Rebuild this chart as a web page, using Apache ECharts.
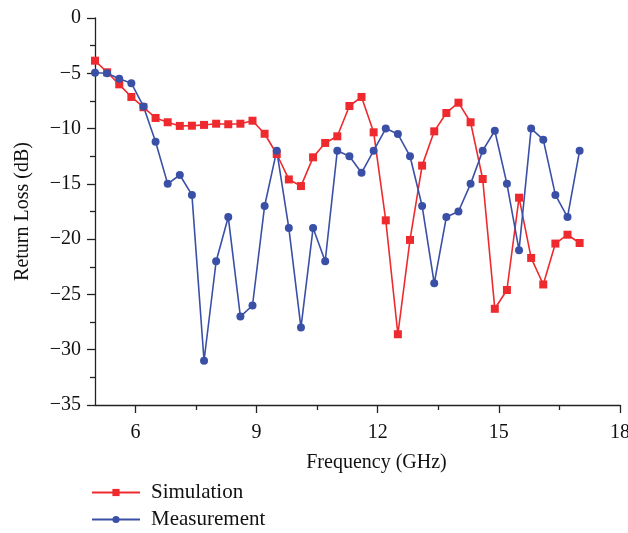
<!DOCTYPE html>
<html>
<head>
<meta charset="utf-8">
<script src="https://cdn.jsdelivr.net/npm/echarts@6/dist/echarts.min.js"></script>
<style>html,body{margin:0;padding:0;background:#fff}#c{width:628px;height:533px}</style>
</head>
<body>
<div id="c"></div>
<script>
const freq = [5.0,5.3,5.6,5.9,6.2,6.5,6.8,7.1,7.4,7.7,8.0,8.3,8.6,8.9,9.2,9.5,9.8,10.1,10.4,10.7,11.0,11.3,11.6,11.9,12.2,12.5,12.8,13.1,13.4,13.7,14.0,14.3,14.6,14.9,15.2,15.5,15.8,16.1,16.4,16.7,17.0];
const simulation = [-3.86,-4.91,-6.0,-7.14,-8.07,-9.04,-9.43,-9.76,-9.74,-9.67,-9.56,-9.61,-9.56,-9.29,-10.47,-12.3,-14.6,-15.2,-12.6,-11.3,-10.7,-7.96,-7.14,-10.34,-18.3,-28.6,-20.07,-13.35,-10.25,-8.59,-7.66,-9.43,-14.56,-26.3,-24.6,-16.25,-21.7,-24.1,-20.4,-19.6,-20.35];
const measurement = [-4.95,-5.0,-5.5,-5.9,-8.0,-11.2,-15.0,-14.2,-16.0,-31.0,-22.0,-18.0,-27.0,-26.0,-17.0,-12.0,-19.0,-28.0,-19.0,-22.0,-12.0,-12.5,-14.0,-12.0,-10.0,-10.5,-12.5,-17.0,-24.0,-18.0,-17.5,-15.0,-12.0,-10.2,-15.0,-21.0,-10.0,-11.0,-16.0,-18.0,-12.0];
const xMajorTicks = [6,9,12,15,18];
const xMinorTicks = [7.5,10.5,13.5,16.5];
const seriesNames = ['Simulation','Measurement'];

const FONT = 'Liberation Serif';
const chart = echarts.init(document.getElementById('c'));
const axisCol = '#222';
const gridBox = {left:95,right:8,top:18,bottom:128,containLabel:false,outerBoundsMode:'none'};
const legendText = {fontFamily:FONT,fontSize:21,color:'#111',lineHeight:20,padding:[0,0,0,6]};
chart.setOption({
  animation:false,
  grid:[Object.assign({},gridBox), Object.assign({},gridBox)],
  legend:[{
    orient:'vertical', left:86, top:477, itemWidth:48, itemHeight:9,
    textStyle:legendText, data:[seriesNames[0]]
  },{
    orient:'vertical', left:86, top:504, itemWidth:48, itemHeight:9,
    textStyle:legendText, data:[seriesNames[1]]
  }],
  xAxis:[{
    type:'value', min:5, max:18, gridIndex:0, position:'bottom',
    name:'Frequency (GHz)', nameLocation:'middle', nameGap:48,
    nameTextStyle:{fontFamily:FONT,fontSize:20,color:'#111',padding:[0,0,0,38]},
    axisLine:{show:true,onZero:false,lineStyle:{color:axisCol,width:1.3}},
    axisTick:{show:true,length:8,lineStyle:{color:axisCol,width:1.3},customValues:xMajorTicks},
    axisLabel:{fontFamily:FONT,fontSize:20,color:'#111',margin:18,customValues:xMajorTicks},
    splitLine:{show:false}
  },{
    type:'value', min:5, max:18, gridIndex:1, position:'bottom',
    axisLine:{show:false,onZero:false},
    axisTick:{show:true,length:5,lineStyle:{color:axisCol,width:1.3},customValues:xMinorTicks},
    axisLabel:{show:false},
    splitLine:{show:false}
  }],
  yAxis:[{
    type:'value', min:-35, max:0, interval:5, gridIndex:0,
    name:'Return Loss (dB)', nameLocation:'middle', nameGap:62,
    nameTextStyle:{fontFamily:FONT,fontSize:20,color:'#111'},
    axisLine:{show:true,onZero:false,lineStyle:{color:axisCol,width:1.3}},
    axisTick:{show:true,length:8,lineStyle:{color:axisCol,width:1.3}},
    minorTick:{show:true,splitNumber:2,length:5,lineStyle:{color:axisCol,width:1.3}},
    axisLabel:{fontFamily:FONT,fontSize:20,color:'#111',margin:14,formatter:v=>String(v).replace('-','\u2212')},
    splitLine:{show:false}
  },{
    type:'value', min:-35, max:0, gridIndex:1, show:false
  }],
  series:[{
    name:seriesNames[0], type:'line', xAxisIndex:0, yAxisIndex:0,
    data:freq.map((f,i)=>[f,simulation[i]]),
    symbol:'rect', symbolSize:8,
    lineStyle:{color:'#ee2a2e',width:1.6},
    itemStyle:{color:'#ee2a2e'}
  },{
    name:seriesNames[1], type:'line', xAxisIndex:0, yAxisIndex:0,
    data:freq.map((f,i)=>[f,measurement[i]]),
    symbol:'circle', symbolSize:8,
    lineStyle:{color:'#3a50a6',width:1.6},
    itemStyle:{color:'#3a50a6'}
  }]
});
</script>
</body>
</html>
